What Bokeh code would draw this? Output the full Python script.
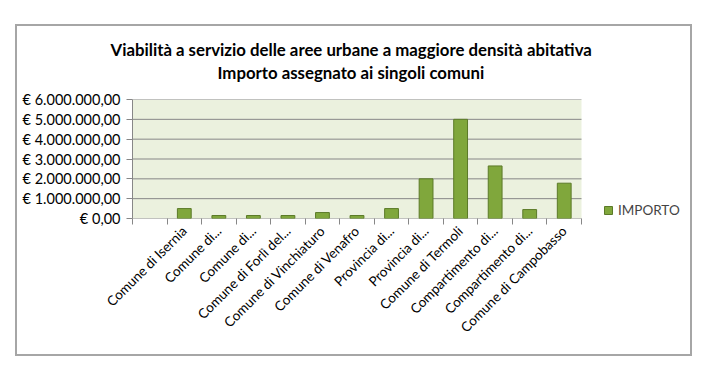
from bokeh.plotting import figure
from bokeh.models import (ColumnDataSource, FixedTicker, Legend, LegendItem,
                          Title, Range1d)
from bokeh.embed import file_html
from bokeh.resources import INLINE

categories = ["", "Comune di Isernia", "Comune di...", "Comune di...",
              "Comune di Forlì del...", "Comune di Vinchiaturo",
              "Comune di Venafro", "Provincia di...", "Provincia di...",
              "Comune di Termoli", "Compartimento di...",
              "Compartimento di...", "Comune di Campobasso"]
importo = [None, 500000, 150000, 150000, 150000, 300000, 150000, 500000,
           2000000, 5000000, 2650000, 450000, 1780000]
y_ticks = [0, 1000000, 2000000, 3000000, 4000000, 5000000, 6000000]
y_tick_labels = ["€ 0,00", "€ 1.000.000,00", "€ 2.000.000,00",
                 "€ 3.000.000,00", "€ 4.000.000,00", "€ 5.000.000,00",
                 "€ 6.000.000,00"]
title_lines = ["Viabilità a servizio delle aree urbane a maggiore densità abitativa",
               "Importo assegnato ai singoli comuni"]
series_name = "IMPORTO"

FONT = "Lato"
n = len(categories)
y_max = y_ticks[-1]
xs = [i + 0.5 for i in range(n)]
bx, bt = [], []
for x, v in zip(xs, importo):
    if v is not None:
        bx.append(x)
        bt.append(v)
src = ColumnDataSource(dict(x=bx, top=bt))

# layout: CSS border box at (15,24)-(692,356); canvas starts 2px inside it
BX, BY = 15, 24
W, H = 692 - BX, 356 - BY
CX, CY = BX + 2, BY + 2
PLOT_L, PLOT_R = 132, 581   # plot area on page
FRAME_R = 686
FRAME_T, FRAME_B = 99, 217.5
x_end = n * (FRAME_R - PLOT_L) / (PLOT_R - PLOT_L)

p = figure(width=W, height=H, output_backend="svg", toolbar_location=None,
           x_range=Range1d(0, x_end), y_range=Range1d(0, y_max),
           min_border_left=PLOT_L - CX,
           min_border_right=(CX + W) - FRAME_R,
           min_border_top=FRAME_T - CY,
           min_border_bottom=int(round(CY + H - FRAME_B)))
p.styles = {"margin-left": f"{BX}px", "margin-top": f"{BY}px",
            "border": "2px solid #a6a6a6"}
p.background_fill_color = "white"
p.border_fill_color = "white"
p.outline_line_color = None
p.xgrid.grid_line_color = None
p.ygrid.grid_line_color = None

# plot area background and gridlines
p.quad(left=[0], right=[n], bottom=[0], top=[y_max], fill_color="#ebf1de",
       line_color=None)
p.segment(x0=[0] * len(y_ticks), x1=[n] * len(y_ticks), y0=y_ticks,
          y1=y_ticks, line_color="#878787", line_width=1)

r = p.vbar(x="x", top="top", width=0.4, source=src, fill_color="#80a73c",
           line_color="#5b7a28", line_width=1)

p.yaxis.ticker = FixedTicker(ticks=y_ticks)
p.yaxis.major_label_overrides = {t: l for t, l in zip(y_ticks, y_tick_labels)}
p.yaxis.axis_line_color = "#878787"
p.yaxis.major_tick_line_color = "#878787"
p.yaxis.major_tick_out = 6
p.yaxis.major_tick_in = 0
p.yaxis.minor_tick_line_color = None
p.yaxis.major_label_text_font = FONT
p.yaxis.major_label_text_font_size = "14.5px"
p.yaxis.major_label_text_color = "black"
p.yaxis.major_label_standoff = 6

p.xaxis.ticker = FixedTicker(ticks=xs, minor_ticks=list(range(n + 1)))
p.xaxis.major_label_overrides = {x: c for x, c in zip(xs, categories)}
p.xaxis.major_tick_line_color = None
p.xaxis.minor_tick_line_color = "#878787"
p.xaxis.minor_tick_out = 6
p.xaxis.minor_tick_in = 0
p.xaxis.axis_line_color = None
p.xaxis.major_label_orientation = 0.785398
p.xaxis.major_label_text_font = FONT
p.xaxis.major_label_text_font_size = "13.5px"
p.xaxis.major_label_text_color = "black"
p.xaxis.major_label_standoff = 4

title_left = [110, 217]
title_standoff = [-35, 34]
for line, left, so in reversed(list(zip(title_lines, title_left, title_standoff))):
    t = Title(text=line, align="left", text_font=FONT,
              text_font_size="16.8px", text_font_style="bold",
              text_color="black", offset=left - PLOT_L, standoff=so)
    p.add_layout(t, "above")

legend = Legend(items=[LegendItem(label=series_name, renderers=[r])],
                location=(603 - PLOT_L, 0), background_fill_alpha=0,
                border_line_color=None, label_text_font=FONT,
                label_text_font_size="13.5px", glyph_width=10,
                glyph_height=10, label_height=10, label_standoff=5,
                padding=0, margin=0)
p.add_layout(legend, "center")

open("out.html", "w").write(file_html(p, INLINE))
